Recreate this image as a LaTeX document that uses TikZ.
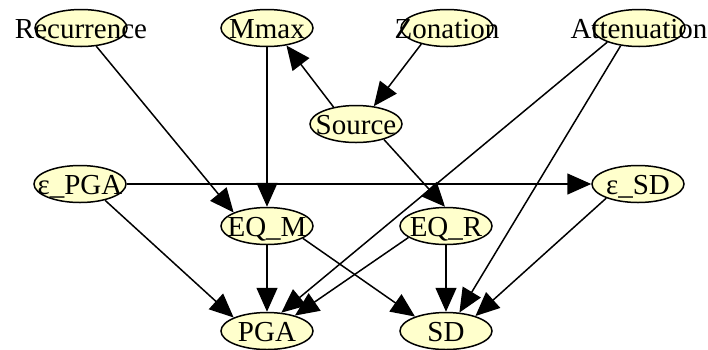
\documentclass[tikz,border=0pt]{standalone}
\usepackage{fontspec}
\setmainfont{Liberation Serif}
\usetikzlibrary{shapes.geometric,arrows.meta}
\definecolor{nodefill}{HTML}{FFFFCC}
\tikzset{
  var/.style={ellipse, draw=black, fill=nodefill, line width=1.5pt,
    minimum width=92pt, minimum height=37pt, inner sep=0pt,
    label={[varlabel]center:#1}},
  varlabel/.style={inner sep=0pt, text height=20pt, text depth=0pt,
    font=\fontsize{29}{29}\selectfont},
  link/.style={line width=1.5pt, -{Triangle[length=24pt,width=21pt]}},
}
\begin{document}
\begin{tikzpicture}[x=1pt,y=-1pt]
\useasboundingbox (0,0) rectangle (708,349);
% top row
\node[var=Recurrence]  (rec)  at (81,28)  {};
\node[var=Mmax]        (mmax) at (267,28) {};
\node[var=Zonation]    (zon)  at (447,28) {};
\node[var=Attenuation] (att)  at (639,28) {};
% source
\node[var=Source]      (src)  at (356,124) {};
% error terms
\node[var={ε\_PGA}]    (epga) at (80,184)  {};
\node[var={ε\_SD}]     (esd)  at (638,184) {};
% earthquake variables
\node[var={EQ\_M}]     (eqm)  at (267,226) {};
\node[var={EQ\_R}]     (eqr)  at (446,226) {};
% outputs
\node[var=PGA]         (pga)  at (267,331) {};
\node[var=SD]          (sd)   at (446,331) {};

% connectors
\draw[link] (rec.-50)   -- (eqm.158);
\draw[link] (mmax.south) -- (eqm.north);
\draw[link] (zon.212)   -- (src.45);
\draw[link] (src.143)   -- (mmax.-42);
\draw[link] (src.-29)   -- (eqr.93);
\draw[link] (att.204)   -- (pga.52);
\draw[link] (att.224)   -- (sd.54);
\draw[link] (epga.east) -- (esd.west);
\draw[link] (epga.-33)  -- (pga.158);
\draw[link] (eqm.south) -- (pga.north);
\draw[link] (eqm.-19)   -- (sd.155);
\draw[link] (eqr.197)   -- (pga.29);
\draw[link] (eqr.south) -- (sd.north);
\draw[link] (esd.204)   -- (sd.27);
\end{tikzpicture}
\end{document}
